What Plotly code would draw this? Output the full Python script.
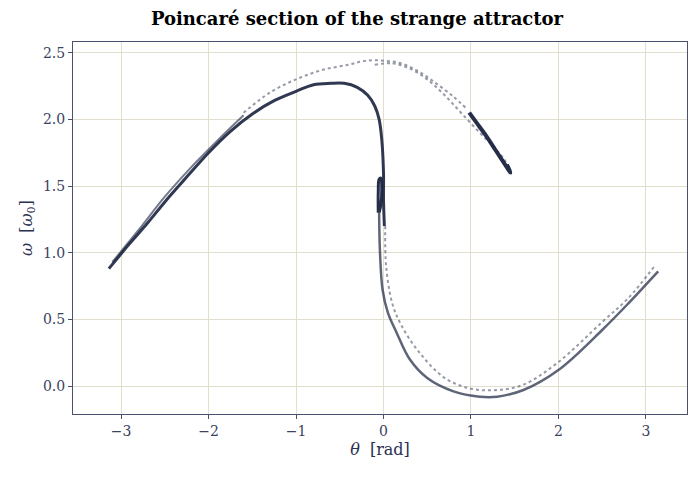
import plotly.graph_objects as go

# Poincare section, one list pair per strand
arm_theta = [-3.14, -2.9, -2.7, -2.5, -2.3, -2.0, -1.75, -1.5, -1.25, -1.0, -0.8, -0.6, -0.45, -0.3, -0.18, -0.1, -0.05, -0.02, 0.0, 0.0, 0.01]
arm_omega = [0.88, 1.07, 1.22, 1.38, 1.53, 1.75, 1.91, 2.04, 2.14, 2.21, 2.26, 2.27, 2.27, 2.24, 2.18, 2.1, 2.0, 1.85, 1.6, 1.4, 1.2]
arm2_theta = [-3.1, -2.8, -2.5, -2.2, -1.9, -1.6]
arm2_omega = [0.93, 1.17, 1.42, 1.64, 1.84, 2.03]

top_theta = [-1.6, -1.3, -1.0, -0.7, -0.4, -0.2, 0.0, 0.2, 0.4, 0.6, 0.8, 0.95]
top_omega = [2.05, 2.2, 2.3, 2.37, 2.41, 2.44, 2.44, 2.42, 2.36, 2.27, 2.17, 2.08]
top2_theta = [-0.1, 0.1, 0.3, 0.5, 0.7, 0.9, 1.1, 1.25, 1.38, 1.45]
top2_omega = [2.41, 2.42, 2.38, 2.3, 2.18, 2.04, 1.9, 1.8, 1.7, 1.62]

hook_theta = [0.98, 1.08, 1.18, 1.28, 1.36, 1.42, 1.45, 1.44, 1.41]
hook_omega = [2.05, 1.96, 1.87, 1.77, 1.69, 1.63, 1.6, 1.62, 1.66]

loop_theta = [-0.06, -0.06, -0.05, -0.03, -0.02, -0.03, -0.05]
loop_omega = [1.3, 1.45, 1.55, 1.56, 1.48, 1.36, 1.3]

low_theta = [-0.05, -0.04, -0.01, 0.05, 0.15, 0.3, 0.5, 0.8, 1.1, 1.3, 1.6, 2.0, 2.5, 2.8, 3.14]
low_omega = [1.3, 1.0, 0.72, 0.55, 0.4, 0.2, 0.06, -0.04, -0.08, -0.08, -0.03, 0.12, 0.42, 0.62, 0.86]
low2_theta = [0.02, 0.03, 0.1, 0.2, 0.4, 0.7, 1.0, 1.3, 1.6, 2.0, 2.5, 2.8, 3.1]
low2_omega = [1.2, 0.9, 0.62, 0.46, 0.26, 0.06, -0.02, -0.03, 0.01, 0.18, 0.48, 0.66, 0.9]

ink = "#1b2440"
fig = go.Figure()
strands = [
    (arm_theta, arm_omega, 3, 0.9, "solid"),
    (arm2_theta, arm2_omega, 2, 0.6, "solid"),
    (top_theta, top_omega, 2, 0.45, "dot"),
    (top2_theta, top2_omega, 2, 0.45, "dot"),
    (hook_theta, hook_omega, 4, 0.95, "solid"),
    (loop_theta, loop_omega, 3, 0.95, "solid"),
    (low_theta, low_omega, 2.5, 0.7, "solid"),
    (low2_theta, low2_omega, 2, 0.45, "dot"),
]
for th, om, w, op, dash in strands:
    fig.add_trace(go.Scatter(x=th, y=om, mode="lines", line=dict(color=ink, width=w, dash=dash, shape="spline"),
                             opacity=op, showlegend=False))

axis_style = dict(showline=True, mirror=True, linecolor="#4a5070", linewidth=1, gridcolor="#e3dfcf",
                  zeroline=False, ticks="outside", ticklen=4, tickcolor="#4a5070", automargin=False,
                  tickfont=dict(family="DejaVu Serif", size=14, color="#3a4260"))
fig.update_layout(
    width=698, height=478,
    margin=dict(l=65, r=19, t=34, b=72),
    plot_bgcolor="white", paper_bgcolor="white",
    title=dict(text="<b>Poincaré section of the strange attractor</b>", x=0.5, xanchor="center", y=0.99,
               font=dict(family="DejaVu Serif", size=18, color="black")),
    xaxis=dict(range=[-3.55, 3.47], dtick=1, title=dict(text="<i>θ</i>  [rad]", standoff=6,
               font=dict(family="DejaVu Serif", size=16, color="#2a3050")), **axis_style),
    yaxis=dict(range=[-0.21, 2.58], dtick=0.5, tickformat=".1f",
               title=dict(text="<i>ω</i>  [<i>ω</i><sub>0</sub>]", standoff=6,
                          font=dict(family="DejaVu Serif", size=16, color="#2a3050")), **axis_style),
)
fig.write_html("out.html")
